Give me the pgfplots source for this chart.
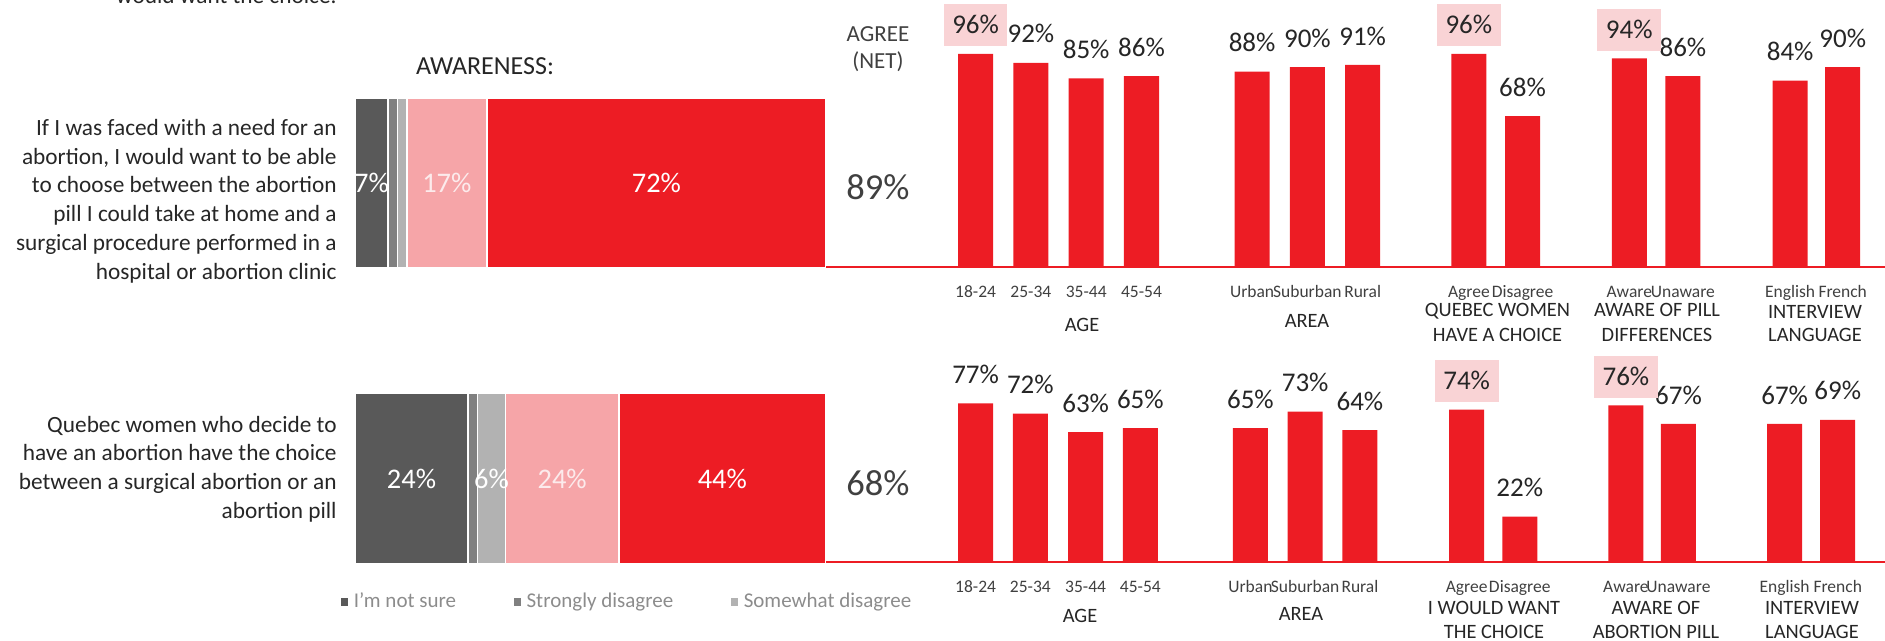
\documentclass[border=0pt]{standalone}
\usepackage{pgfplots}
\pgfplotsset{compat=1.18}
\usepackage{fontspec}
\setmainfont{Carlito}

\definecolor{barred}{HTML}{ED1C24}
\definecolor{pinkseg}{HTML}{F6A5A8}
\definecolor{hlpink}{HTML}{F9D3D5}
\definecolor{dgray}{HTML}{595959}
\definecolor{mgray}{HTML}{808080}
\definecolor{lgray}{HTML}{B2B2B2}
\definecolor{txt}{HTML}{262626}
\definecolor{txtgray}{HTML}{404040}
\definecolor{leggray}{HTML}{8C8C8C}
\definecolor{paletext}{HTML}{FCEBEC}

% 1 px of the reference = 0.5pt
\pgfplotsset{
  rowbars/.style={
    scale only axis, width=529.5pt,
    xmin=-2.705, xmax=16.445, ymin=0, ymax=100,
    ybar, bar width=0.633,
    axis y line=none, axis x line*=bottom,
    x axis line style={barred, line width=1.4pt, -},
    xtick style={draw=none},
    xticklabel style={font=\fontsize{8.75pt}{10pt}\selectfont, text=txtgray, anchor=base, yshift=-11pt},
    /pgf/number format/assume math mode=true,
    clip=false,
    nodes near coords={\pgfmathprintnumber{\pgfplotspointmeta}\%},
    every node near coord/.append style={font=\fontsize{13.5pt}{15pt}\selectfont, text=txt,
      anchor=south, yshift=3.5pt, text height=8.5pt, text depth=0pt,
      inner xsep=4.25pt, inner ysep=6.25pt},
  },
  stackbox/.style={
    at={(177.5pt,-282pt)}, anchor=south west,
    scale only axis, width=235.5pt, height=233pt,
    xmin=0, xmax=100, ymin=-0.289, ymax=1.288,
    hide axis, clip=false,
  },
}

\begin{document}
\begin{tikzpicture}
\useasboundingbox (0pt,0pt) rectangle (942.5pt,-320.5pt);
\clip (0pt,0pt) rectangle (942.5pt,-320.5pt);

% left question texts
\node[anchor=base east, inner sep=0pt, text=txt, font=\fontsize{11.65pt}{14.4pt}\selectfont] at (168.5pt,-2pt) {would want the choice.};
\node[anchor=east, align=right, inner sep=0pt, text=txt, font=\fontsize{11.65pt}{14.4pt}\selectfont] at (168.5pt,-100.5pt)
  {If I was faced with a need for an\\abortion, I would want to be able\\to choose between the abortion\\pill I could take at home and a\\surgical procedure performed in a\\hospital or abortion clinic};
\node[anchor=east, align=right, inner sep=0pt, text=txt, font=\fontsize{11.65pt}{14.4pt}\selectfont] at (168.5pt,-234.5pt)
  {Quebec women who decide to\\have an abortion have the choice\\between a surgical abortion or an\\abortion pill};
\node[text=txt, font=\fontsize{13pt}{15pt}\selectfont] at (242.5pt,-33pt) {AWARENESS:};

% stacked bars
\begin{axis}[stackbox,
  xbar stacked, bar width=0.575,
  legend style={at={(axis description cs:-0.034,-0.0815)}, anchor=west, draw=none, fill=none,
    inner sep=0pt, legend columns=-1, font=\fontsize{10.5pt}{12pt}\selectfont, text=leggray,
    /tikz/every even column/.append style={column sep=26pt}},
  legend image code/.code={\fill[#1] (0pt,-2.5pt) rectangle (4.5pt,2.5pt);},
]
\addplot[fill=dgray, draw=white, line width=0.75pt] coordinates {(7,1) (24,0)};
\addplot[fill=mgray, draw=white, line width=0.75pt] coordinates {(2,1) (2,0)};
\addplot[fill=lgray, draw=white, line width=0.75pt] coordinates {(2,1) (6,0)};
\addplot[fill=pinkseg, draw=white, line width=0.75pt] coordinates {(17,1) (24,0)};
\addplot[fill=barred, draw=white, line width=0.75pt] coordinates {(72,1) (44,0)};
\legend{I\char"0027 m not sure, Strongly disagree, Somewhat disagree}
\end{axis}

% segment labels
\begin{axis}[stackbox]
\addplot[draw=none, mark=none, nodes near coords, point meta=explicit symbolic,
  every node near coord/.append style={anchor=center, text=white, font=\fontsize{14.2pt}{16pt}\selectfont}]
  coordinates {(3.5,1) [7\%] (64,1) [72\%] (12,0) [24\%] (29,0) [6\%] (78,0) [44\%]};
\addplot[draw=none, mark=none, nodes near coords, point meta=explicit symbolic,
  every node near coord/.append style={anchor=center, text=paletext, font=\fontsize{14.2pt}{16pt}\selectfont}]
  coordinates {(19.5,1) [17\%] (44,0) [24\%]};
\end{axis}

% agree (net)
\node[align=center, text=txtgray, font=\fontsize{11.5pt}{13.5pt}\selectfont] at (439pt,-24.75pt) {AGREE\\(NET)};
\node[text=txtgray, font=\fontsize{18.25pt}{20pt}\selectfont] at (439pt,-93.5pt) {89\%};
\node[text=txtgray, font=\fontsize{18.25pt}{20pt}\selectfont] at (439pt,-241.5pt) {68\%};

% top row of subgroup bars
\begin{axis}[rowbars, at={(413pt,-133.5pt)}, anchor=south west, height=111pt,
  xtick={0,1,2,3,5,6,7,8.92,9.89,11.82,12.79,14.73,15.68},
  xticklabels={18-24,25-34,35-44,45-54,Urban,Suburban,Rural,Agree,Disagree,Aware,Unaware,English,French},
]
\addplot[fill=barred, draw=none, bar shift=0pt] coordinates {
  (1,92) (2,85) (3,86) (5,88) (6,90) (7,91) (9.89,68) (12.79,86) (14.73,84) (15.68,90)};
\addplot[fill=barred, draw=none, bar shift=0pt, every node near coord/.append style={fill=hlpink}] coordinates {
  (0,96) (8.92,96) (11.82,94)};
\end{axis}

% bottom row of subgroup bars
\begin{axis}[rowbars, at={(413pt,-281pt)}, anchor=south west, height=103pt,
  xtick={0,0.99,1.99,2.98,4.97,5.96,6.95,8.88,9.84,11.76,12.71,14.63,15.59},
  xticklabels={18-24,25-34,35-44,45-54,Urban,Suburban,Rural,Agree,Disagree,Aware,Unaware,English,French},
]
\addplot[fill=barred, draw=none, bar shift=0pt] coordinates {
  (0,77) (0.99,72) (1.99,63) (2.98,65) (4.97,65) (5.96,73) (6.95,64) (9.84,22) (12.71,67) (14.63,67) (15.59,69)};
\addplot[fill=barred, draw=none, bar shift=0pt, every node near coord/.append style={fill=hlpink}] coordinates {
  (8.88,74) (11.76,76)};
\end{axis}

% group titles
\begin{scope}[every node/.style={anchor=base, text=txt, font=\fontsize{10.2pt}{12pt}\selectfont}]
\node at (541pt,-165.75pt) {AGE};
\node at (653.5pt,-163.75pt) {AREA};
\node at (748.75pt,-158.25pt) {QUEBEC WOMEN};
\node at (748.75pt,-170.75pt) {HAVE A CHOICE};
\node at (828.5pt,-158.25pt) {AWARE OF PILL};
\node at (828.5pt,-170.75pt) {DIFFERENCES};
\node at (907.5pt,-159.25pt) {INTERVIEW};
\node at (907.5pt,-170.75pt) {LANGUAGE};
\node at (540pt,-311pt) {AGE};
\node at (650.5pt,-310pt) {AREA};
\node at (747pt,-307pt) {I WOULD WANT};
\node at (747pt,-319.25pt) {THE CHOICE};
\node at (828pt,-307pt) {AWARE OF};
\node at (828pt,-319.25pt) {ABORTION PILL};
\node at (906pt,-307pt) {INTERVIEW};
\node at (906pt,-319.25pt) {LANGUAGE};
\end{scope}
\end{tikzpicture}
\end{document}
